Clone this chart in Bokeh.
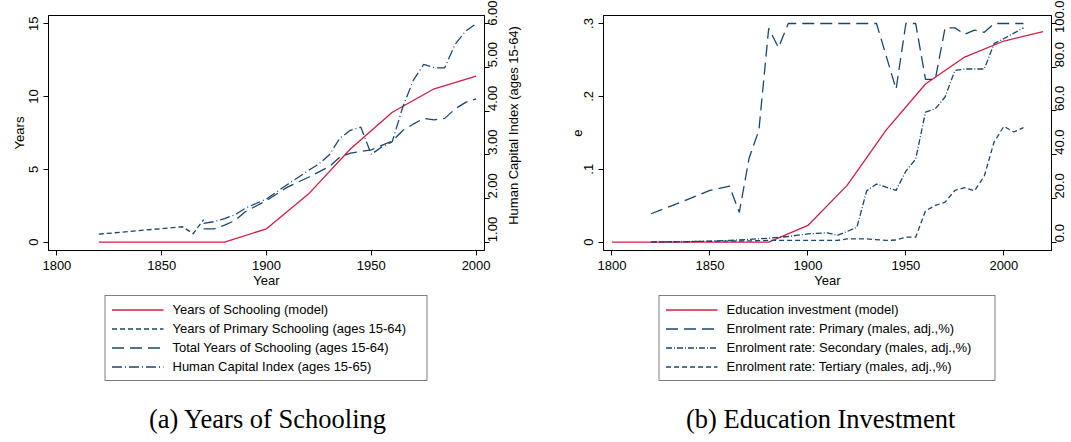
import math
from bokeh.plotting import figure
from bokeh.models import Range1d, LinearAxis, FixedTicker, Legend, LegendItem, Label
from bokeh.layouts import row, column
from bokeh.embed import file_html
from bokeh.resources import INLINE

# ---------------- Panel (a): Years of schooling ----------------
model_years_a = [1820, 1840, 1860, 1880, 1900, 1920, 1940, 1960, 1980, 2000]
schooling_model = [0, 0, 0, 0, 0.92, 3.3, 6.4, 8.92, 10.53, 11.4]

primary_years_a = [1820, 1860, 1865, 1870]
primary_schooling = [0.55, 1.06, 0.58, 1.55]

total_years_a = [1870, 1875, 1880, 1885, 1890, 1900, 1910, 1920, 1930, 1935, 1940,
                 1950, 1960, 1965, 1970, 1975, 1980, 1985, 1990, 1995, 2000]
total_schooling = [0.92, 0.92, 1.17, 1.49, 2.1, 2.86, 3.78, 4.46, 5.19, 5.84, 6.11,
                   6.34, 6.95, 7.67, 8.1, 8.5, 8.4, 8.5, 9.15, 9.6, 9.84]

hci_years = [1870, 1875, 1880, 1885, 1890, 1900, 1910, 1920, 1925, 1930, 1935, 1940,
             1945, 1950, 1955, 1960, 1965, 1970, 1975, 1980, 1985, 1990, 1995, 2000]
hci_index = [1.43, 1.47, 1.54, 1.63, 1.78, 1.99, 2.32, 2.64, 2.79, 3.0, 3.38, 3.56,
             3.63, 3.01, 3.18, 3.30, 4.09, 4.70, 5.07, 4.99, 4.99, 5.53, 5.83, 6.0]

xticks = [1800, 1850, 1900, 1950, 2000]
yticks_a = [0, 5, 10, 15]
hci_ticks = [1, 2, 3, 4, 5, 6]
hci_title = "Human Capital Index (ages 15-64)"

# ---------------- Panel (b): Education investment ----------------
model_years_b = [1800, 1820, 1840, 1860, 1880, 1900, 1920, 1940, 1960, 1980, 2000, 2020]
education_model = [0, 0, 0, 0, 0, 0.023, 0.078, 0.154, 0.217, 0.254, 0.276, 0.289]

primary_years_b = [1820, 1830, 1840, 1850, 1860, 1865, 1870, 1875, 1880, 1885, 1890, 1900,
                   1910, 1920, 1930, 1935, 1945, 1950, 1955, 1960, 1965, 1970, 1975, 1980,
                   1985, 1990, 1995, 2000, 2005, 2010]
primary_enrol = [13, 16.5, 20, 23.7, 25.6, 13.6, 38.5, 51.2, 97.8, 89, 100, 100,
                 100, 100, 100, 100, 70, 100, 100, 74.5, 74.5, 98, 98, 95.1,
                 97, 96, 100, 100, 100, 100]

secondary_years = [1820, 1830, 1840, 1850, 1860, 1870, 1880, 1890, 1900, 1910, 1915, 1920,
                   1925, 1930, 1935, 1945, 1950, 1955, 1960, 1965, 1970, 1975, 1980, 1990,
                   1995, 2000, 2010]
secondary_enrol = [0.1, 0.2, 0.3, 0.5, 0.8, 1.3, 1.8, 2.6, 3.8, 4.3, 3.1, 4.9,
                   6.8, 23.5, 26.6, 23.7, 32.5, 38.0, 59.5, 61, 66.4, 78.5, 79.2, 79.2,
                   90.8, 93.1, 98]

tertiary_years = [1820, 1830, 1840, 1850, 1860, 1870, 1880, 1890, 1900, 1910, 1915, 1920,
                  1930, 1940, 1945, 1950, 1955, 1960, 1965, 1970, 1975, 1980, 1985, 1990,
                  1995, 2000, 2005, 2010]
tertiary_enrol = [0.1, 0.2, 0.3, 0.4, 0.5, 0.6, 0.8, 0.8, 0.8, 0.8, 0.8, 1.5,
                  1.5, 0.8, 1.0, 2.3, 2.3, 14.3, 16.8, 18.3, 23.7, 24.9, 23.5, 30.2,
                  45.8, 53, 50.4, 52.4]

yticks_b = [0, 0.1, 0.2, 0.3]
ylabels_b = {0: "0", 0.1: ".1", 0.2: ".2", 0.3: ".3"}
enrol_ticks = [0, 20, 40, 60, 80, 100]

legend_a = ["Years of Schooling (model)", "Years of Primary Schooling (ages 15-64)",
            "Total Years of Schooling (ages 15-64)", "Human Capital Index (ages 15-65)"]
legend_b = ["Education investment (model)", "Enrolment rate: Primary (males, adj.,%)",
            "Enrolment rate: Secondary (males, adj.,%)", "Enrolment rate: Tertiary (males, adj.,%)"]

RED = "#d41c45"
NAVY = "#1a476f"
FONT = "Liberation Sans"
CAPFONT = "Liberation Serif"
LW = 1.3
NAN2 = [float("nan"), float("nan")]


def style_axis(ax, vertical=False, right=False):
    ax.axis_line_color = "black"
    ax.axis_line_width = 1
    ax.major_tick_line_color = "black"
    ax.major_tick_out = 5
    ax.major_tick_in = 0
    ax.minor_tick_line_color = None
    ax.major_label_text_font = FONT
    ax.major_label_text_font_size = "13px"
    ax.major_label_text_color = "black"
    ax.major_label_standoff = 5
    ax.axis_label_text_font = FONT
    ax.axis_label_text_font_size = "13px"
    ax.axis_label_text_font_style = "normal"
    ax.axis_label_text_color = "black"
    ax.axis_label_standoff = 0
    if vertical:
        ax.major_label_orientation = math.pi / 2 if right else "vertical"
    if right:
        ax.major_label_standoff = 3


def blank_figure(width, height, bl=0, br=0):
    q = figure(width=width, height=height, x_range=Range1d(0, 1), y_range=Range1d(0, 1),
               output_backend="svg", toolbar_location=None,
               x_axis_location=None, y_axis_location=None,
               min_border_left=bl, min_border_right=br, min_border_top=0,
               min_border_bottom=0)
    q.outline_line_color = None
    q.xgrid.grid_line_color = None
    q.ygrid.grid_line_color = None
    q.background_fill_color = "white"
    q.border_fill_color = "white"
    return q


def plot_figure(width, x_range, y_range, bl, br):
    p = figure(width=width, height=295, x_range=x_range, y_range=y_range,
               output_backend="svg", toolbar_location=None,
               min_border_left=bl, min_border_right=br, min_border_top=15,
               min_border_bottom=45)
    p.background_fill_color = "white"
    p.border_fill_color = "white"
    p.outline_line_color = "black"
    p.outline_line_width = 1
    p.xgrid.grid_line_color = None
    p.ygrid.grid_line_color = None
    p.xaxis.ticker = FixedTicker(ticks=xticks)
    p.xaxis.axis_label = "Year"
    style_axis(p.xaxis[0])
    style_axis(p.yaxis[0], vertical=True)
    return p


def legend_figure(width, bl, br, labels, styles, label_width, cap, cap_x):
    q = blank_figure(width, 147, bl, br)
    items = []
    for lab, st in zip(labels, styles):
        r = q.line(NAN2, NAN2, line_width=LW, **st)
        items.append(LegendItem(label=lab, renderers=[r]))
    lg = Legend(items=items, location="top_center", orientation="vertical")
    lg.border_line_color = "black"
    lg.border_line_width = 1
    lg.background_fill_color = "white"
    lg.background_fill_alpha = 1
    lg.label_text_font = FONT
    lg.label_text_font_size = "13px"
    lg.label_text_color = "black"
    lg.glyph_width = 52
    lg.glyph_height = 15
    lg.label_height = 15
    lg.label_standoff = 9
    lg.label_width = label_width
    lg.spacing = 4
    lg.padding = 6
    lg.margin = 0
    q.add_layout(lg, "center")
    q.add_layout(Label(x=cap_x, y=0.16, text=cap, text_align="center",
                       text_baseline="middle", text_font=CAPFONT,
                       text_font_size="26.5px", text_color="black"))
    return q


# ---- Panel (a)
pa = plot_figure(507, Range1d(1796, 2004), Range1d(-0.57, 15.56), 48, 23)
pa.yaxis.ticker = FixedTicker(ticks=yticks_a)
pa.yaxis.axis_label = "Years"
pa.extra_y_ranges = {"hci": Range1d(1 - 0.57 / 3, 1 + 15.56 / 3)}
ax_r = LinearAxis(y_range_name="hci", ticker=FixedTicker(ticks=hci_ticks))
ax_r.major_label_overrides = {t: f"{t:.2f}" for t in hci_ticks}
style_axis(ax_r, vertical=True, right=True)
pa.add_layout(ax_r, "right")

sty_a = [dict(line_color=RED), dict(line_color=NAVY, line_dash="5 3"),
         dict(line_color=NAVY, line_dash="12 6"), dict(line_color=NAVY, line_dash="10 3 1 3")]
pa.line(model_years_a, schooling_model, line_width=LW, **sty_a[0])
pa.line(primary_years_a, primary_schooling, line_width=LW, **sty_a[1])
pa.line(total_years_a, total_schooling, line_width=LW, **sty_a[2])
pa.line(hci_years, hci_index, line_width=LW, y_range_name="hci", **sty_a[3])

# strip holding the right-axis title (reads bottom-to-top like the original)
ta = blank_figure(53, 295)
ta.add_layout(Label(x=6 / 53, y=(295 - 138) / 295, text=hci_title, angle=90,
                    angle_units="deg", text_align="center", text_baseline="middle",
                    text_font=FONT, text_font_size="13px", text_color="black"))

la = legend_figure(560, 48, 76, legend_a, sty_a, 248, "(a)  Years of Schooling", 0.511)

# ---- Panel (b)
pb = plot_figure(511, Range1d(1795.7, 2024.3), Range1d(-0.0114, 0.311), 43, 20)
pb.yaxis.ticker = FixedTicker(ticks=yticks_b)
pb.yaxis.major_label_overrides = ylabels_b
pb.yaxis.axis_label = "e"
pb.extra_y_ranges = {"enrol": Range1d(-0.0114 * 1000 / 3, 0.311 * 1000 / 3)}
ax_rb = LinearAxis(y_range_name="enrol", ticker=FixedTicker(ticks=enrol_ticks))
ax_rb.major_label_overrides = {t: f"{t:.1f}" for t in enrol_ticks}
style_axis(ax_rb, vertical=True, right=True)
pb.add_layout(ax_rb, "right")

sty_b = [dict(line_color=RED), dict(line_color=NAVY, line_dash="12 6"),
         dict(line_color=NAVY, line_dash="6 2 1 2"), dict(line_color=NAVY, line_dash="5 3")]
pb.line(model_years_b, education_model, line_width=LW, **sty_b[0])
pb.line(primary_years_b, primary_enrol, line_width=LW, y_range_name="enrol", **sty_b[1])
pb.line(secondary_years, secondary_enrol, line_width=LW, y_range_name="enrol", **sty_b[2])
pb.line(tertiary_years, tertiary_enrol, line_width=LW, y_range_name="enrol", **sty_b[3])

lb = legend_figure(511, 43, 20, legend_b, sty_b, 262, "(b)  Education Investment", 0.492)

layout = row(column(row(pa, ta), la), column(pb, lb))
open("out.html", "w").write(file_html(layout, INLINE))
